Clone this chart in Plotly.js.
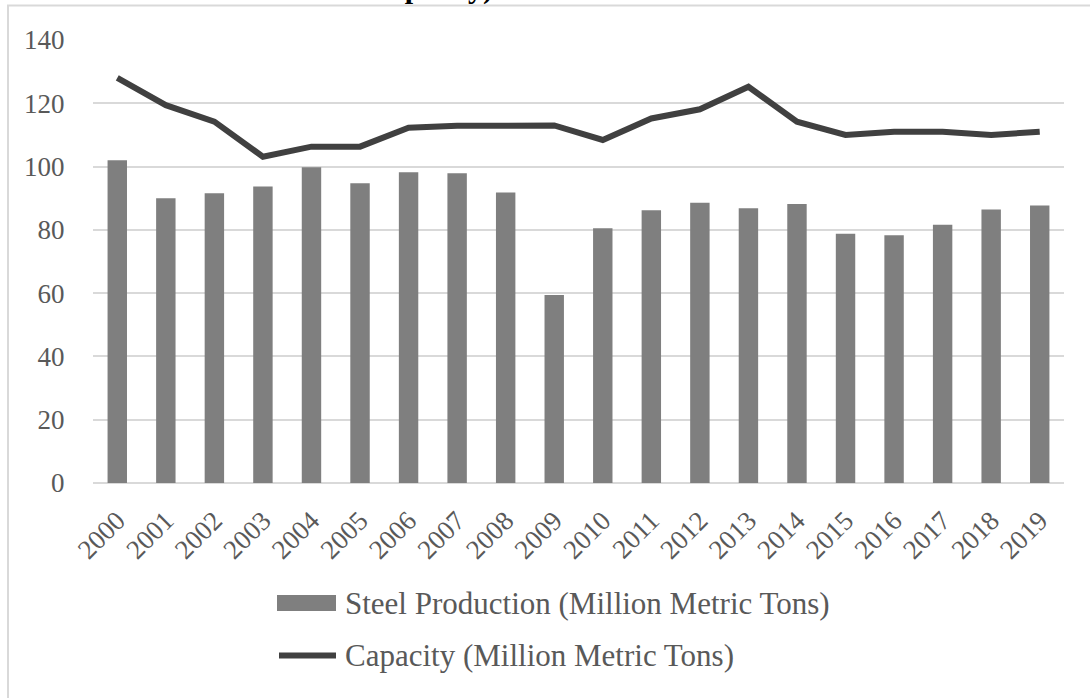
<!DOCTYPE html>
<html>
<head>
<meta charset="utf-8">
<script src="https://cdn.plot.ly/plotly-3.0.1.min.js"></script>
<style>html,body{margin:0;padding:0;background:#fff;}#chart{width:1090px;height:698px;}</style>
</head>
<body>
<div id="chart"></div>
<script>
const years = ['2000','2001','2002','2003','2004','2005','2006','2007','2008','2009','2010','2011','2012','2013','2014','2015','2016','2017','2018','2019'];
const steelProduction = [102, 90, 91.6, 93.7, 99.8, 94.7, 98.2, 97.9, 91.8, 59.4, 80.5, 86.2, 88.6, 86.8, 88.2, 78.8, 78.3, 81.6, 86.4, 87.7];
const capacity = [128, 119.4, 114.2, 103.1, 106.3, 106.3, 112.3, 112.9, 112.9, 113, 108.4, 115.2, 118.1, 125.2, 114.2, 110, 111, 111, 110, 111];
const seriesNames = ['Steel Production (Million Metric Tons)', 'Capacity (Million Metric Tons)'];
const titleFragment = 'Capacity)';

const W = 1090, H = 698;
const L = 93, R = 1064, T = 40, B = 483;
const px = x => (x - L) / (R - L);
const py = y => (B - y) / (B - T);
const font = 'Liberation Serif, Times New Roman, serif';

const traces = [
  {type: 'bar', x: years, y: steelProduction, name: seriesNames[0],
   marker: {color: '#7f7f7f'}, showlegend: false, hoverinfo: 'x+y'},
  {type: 'scatter', mode: 'lines', x: years, y: capacity, name: seriesNames[1],
   line: {color: '#404040', width: 6}, showlegend: false, hoverinfo: 'x+y'}
];

const layout = {
  width: W, height: H,
  margin: {l: L, r: W - R, t: T, b: H - B, pad: 0},
  paper_bgcolor: '#ffffff', plot_bgcolor: '#ffffff',
  font: {family: font, color: '#595959', size: 27},
  bargap: 0.6,
  xaxis: {type: 'category', tickangle: -45, showgrid: false, zeroline: false,
          showline: false, ticks: 'outside', ticklen: 10, tickcolor: 'rgba(0,0,0,0)',
          tickfont: {family: font, size: 27, color: '#595959'}, fixedrange: true},
  yaxis: {range: [0, 140], dtick: 20, showgrid: true, gridcolor: '#d9d9d9', gridwidth: 1.5,
          zeroline: true, zerolinecolor: '#d9d9d9', zerolinewidth: 1.5, showline: false,
          ticks: 'outside', ticklen: 22, tickcolor: 'rgba(0,0,0,0)',
          tickfont: {family: font, size: 27, color: '#595959'}, fixedrange: true},
  shapes: [
    {type: 'rect', xref: 'paper', yref: 'paper', x0: px(8), x1: px(1110), y0: py(720), y1: py(5.5),
     line: {color: '#d9d9d9', width: 2}, fillcolor: 'rgba(0,0,0,0)', layer: 'below'},
    {type: 'rect', xref: 'paper', yref: 'paper', x0: px(277), x1: px(336), y0: py(611), y1: py(595),
     line: {width: 0}, fillcolor: '#7f7f7f'},
    {type: 'line', xref: 'paper', yref: 'paper', x0: px(279), x1: px(336), y0: py(655.5), y1: py(655.5),
     line: {color: '#404040', width: 6}}
  ],
  annotations: [
    {xref: 'paper', yref: 'paper', x: px(343), y: py(603), xanchor: 'left', yanchor: 'middle',
     text: seriesNames[0], showarrow: false, font: {family: font, size: 31, color: '#595959'}},
    {xref: 'paper', yref: 'paper', x: px(343), y: py(655), xanchor: 'left', yanchor: 'middle',
     text: seriesNames[1], showarrow: false, font: {family: font, size: 31, color: '#595959'}},
    {xref: 'paper', yref: 'paper', x: px(494), y: py(6), xanchor: 'right', yanchor: 'bottom',
     text: '<b>' + titleFragment + '</b>', showarrow: false, borderpad: 0,
     font: {family: font, size: 30, color: '#000000'}}
  ],
  showlegend: false
};

Plotly.newPlot('chart', traces, layout, {displayModeBar: false, responsive: false});
</script>
</body>
</html>
